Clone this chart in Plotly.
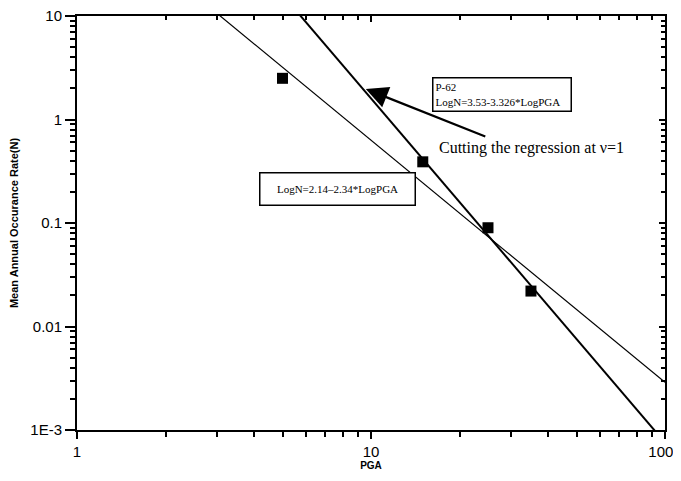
import numpy as np
import plotly.graph_objects as go

# Data points (PGA, mean annual occurrence rate)
pga = [5, 15, 25, 35]
rate = [2.5, 0.39, 0.09, 0.022]

# Regression lines: LogN = a - b*LogPGA
fit1_a, fit1_b = 3.53, 3.326   # P-62 (cut at v=1)
fit2_a, fit2_b = 2.14, 2.34
line_x = [1, 100]

x_ticks = [1, 10, 100]
x_ticktext = ["1", "10", "100\u00a0\u00a0"]
y_ticks = [1e-3, 1e-2, 1e-1, 1, 10]
y_ticktext = ["1E-3", "0.01", "0.1", "1", "10"]

def fit(a, b, xs):
    return [10 ** (a - b * np.log10(v)) for v in xs]

fig = go.Figure()
fig.add_trace(go.Scatter(x=line_x, y=fit(fit2_a, fit2_b, line_x), mode="lines",
                         line=dict(color="black", width=1.2), showlegend=False))
fig.add_trace(go.Scatter(x=line_x, y=fit(fit1_a, fit1_b, line_x), mode="lines",
                         line=dict(color="black", width=2), showlegend=False))
fig.add_trace(go.Scatter(x=pga, y=rate, mode="markers",
                         marker=dict(symbol="square", size=11, color="black"),
                         showlegend=False))
# invisible trace for mirrored axes
fig.add_trace(go.Scatter(x=line_x, y=[1, 1], xaxis="x2", yaxis="y2", mode="lines",
                         line=dict(width=0), hoverinfo="skip", showlegend=False,
                         opacity=0))

tickfont = dict(family="Liberation Sans, Arial", size=15, color="black")
common = dict(type="log", showgrid=False, zeroline=False, showline=True, automargin=False,
              linecolor="black", linewidth=2, tickcolor="black", tickwidth=1.5)

# page body has an 8px margin; figure is sized/offset to put the plot where the reference has it
fig.update_layout(
    width=673, height=465,
    margin=dict(l=69, r=16, t=8, b=43, autoexpand=False),
    plot_bgcolor="white", paper_bgcolor="white",
    xaxis=dict(**common, range=[0, 2], tickvals=x_ticks, ticktext=x_ticktext,
               ticks="outside", ticklen=7, tickfont=tickfont, ticklabeloverflow="allow",
               minor=dict(ticks="outside", ticklen=5, dtick="D1", tickcolor="black", tickwidth=1.5),
               title=dict(text="<b>PGA</b>", font=dict(family="Liberation Sans, Arial", size=10, color="black"),
                          standoff=0)),
    yaxis=dict(**common, range=[-3, 1], tickvals=y_ticks, ticktext=y_ticktext,
               ticks="outside", ticklen=10, tickfont=tickfont, ticklabeloverflow="allow",
               minor=dict(ticks="outside", ticklen=5, dtick="D1", tickcolor="black", tickwidth=1.5),
               title=dict(text="<b>Mean Annual Occurance Rate(N)</b>",
                          font=dict(family="Liberation Sans, Arial", size=11, color="black"),
                          standoff=10)),
    xaxis2=dict(**common, range=[0, 2], overlaying="x", side="top", anchor="y2",
                tickvals=x_ticks, showticklabels=False, ticks="inside", ticklen=6,
                minor=dict(ticks="inside", ticklen=4, dtick="D1", tickcolor="black", tickwidth=1.5)),
    yaxis2=dict(**common, range=[-3, 1], overlaying="y", side="right", anchor="x2",
                tickvals=y_ticks, showticklabels=False, ticks="inside", ticklen=6,
                minor=dict(ticks="inside", ticklen=4, dtick="D1", tickcolor="black", tickwidth=1.5)),
)

serif = "Liberation Serif, Times New Roman"
fig.add_annotation(xref="paper", yref="paper", x=0.723, y=0.810,
                   xanchor="center", yanchor="middle",
                   text="P-62<br>LogN=3.53-3.326*LogPGA", showarrow=False, align="left",
                   font=dict(family=serif, size=11, color="black"),
                   bordercolor="black", borderwidth=1.5, borderpad=2, bgcolor="white",
                   width=133, height=28)
fig.add_annotation(xref="paper", yref="paper", x=0.443, y=0.583,
                   xanchor="center", yanchor="middle",
                   text="LogN=2.14\u20132.34*LogPGA", showarrow=False, align="center",
                   font=dict(family=serif, size=11, color="black"),
                   bordercolor="black", borderwidth=1.5, borderpad=2, bgcolor="white",
                   width=150, height=27)
fig.add_annotation(xref="paper", yref="paper", x=0.612, y=0.681,
                   xanchor="left", yanchor="middle",
                   text="Cutting the regression at \u03bd=1", showarrow=False,
                   font=dict(family=serif, size=16, color="black"))
# arrow (tip on the P-62 line)
fig.add_annotation(x=np.log10(9.6), y=np.log10(1.97), xref="x", yref="y",
                   ax=121, ay=48, text="", showarrow=True,
                   arrowhead=2, arrowsize=2.0, arrowwidth=2.2, arrowcolor="black")

fig.write_html("out.html")
